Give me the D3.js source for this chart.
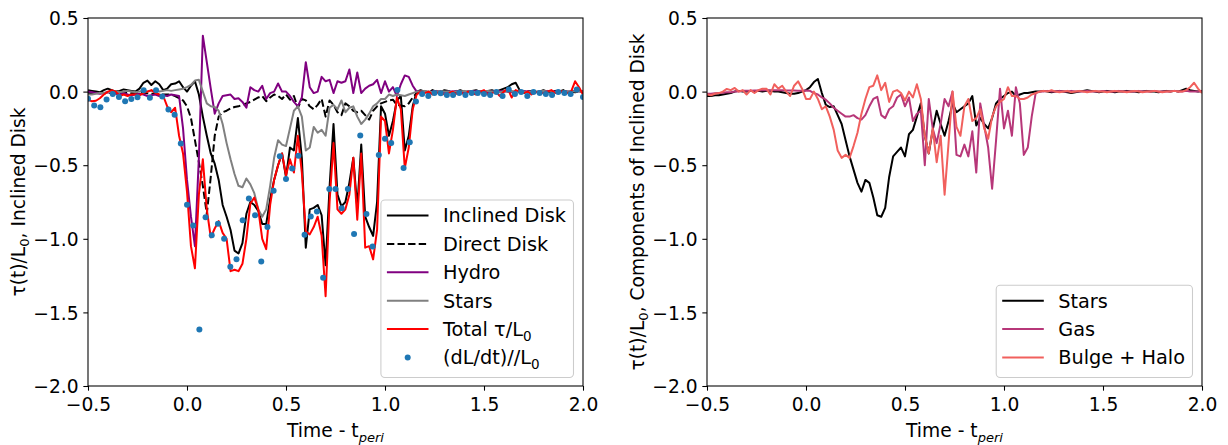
<!DOCTYPE html>
<html><head><meta charset="utf-8">
<script src="https://cdn.jsdelivr.net/npm/d3@7"></script>
<style>
body{margin:0;background:#fff;}
svg text{font-family:"DejaVu Sans",sans-serif;fill:#000;}
</style></head><body>
<svg id="fig" width="1228" height="445"></svg>
<script>
// Sample times of the torque series (every 0.02) and of the dL/dt estimate (every 1/32)
const time = d3.range(126).map(k => -0.5 + 0.02 * k);
const dotTime = d3.range(81).map(i => -0.5 + i / 32);

const xTicks = [-0.5, 0.0, 0.5, 1.0, 1.5, 2.0];
const yTicks = [-2.0, -1.5, -1.0, -0.5, 0.0, 0.5];

// Left panel: torques on the inclined disk, tau(t)/L0
const inclinedDisk = [
  0.01, 0.005, 0.0, -0.005, 0.01, 0.02, 0.01, 0.0, 0.005, 0.015,
  0.01, 0.005, 0.0, 0.02, 0.06, 0.075, 0.045, 0.07, 0.05, 0.01,
  0.02, 0.05, 0.055, 0.07, 0.03, 0.0, 0.04, 0.07, -0.02, -0.17,
  -0.3, -0.42, -0.49, -0.6, -0.77, -0.85, -0.94, -1.08, -1.1, -1.03,
  -0.83, -0.75, -0.77, -0.81, -0.9, -0.9, -0.73, -0.6, -0.5, -0.42,
  -0.58, -0.38, -0.4, -0.18, -0.45, -1.06, -0.8, -0.79, -0.77, -0.84,
  -1.18, -0.65, -0.22, -0.7, -0.78, -0.75, -0.62, -0.45, -0.79, -0.36,
  -0.85, -0.92, -0.98, -0.75, -0.1, -0.15, -0.3, -0.2, -0.06, -0.03,
  -0.4, -0.3, -0.1, 0.0, 0.01, 0.0, -0.01, 0.01, 0.0, -0.005,
  0.01, 0.005, -0.01, 0.0, 0.01, 0.0, -0.005, 0.005, 0.01, 0.0,
  -0.01, 0.005, 0.01, 0.0, 0.01, 0.02, 0.03, 0.05, 0.06, 0.01,
  -0.01, 0.0, 0.005, -0.005, 0.0, 0.01, 0.0, -0.01, 0.005, 0.0,
  0.01, -0.005, 0.0, 0.005, 0.01, -0.01
];
const directDisk = [
  -0.01, -0.01, -0.008, -0.01, -0.012, -0.01, -0.008, -0.01, -0.012, -0.01,
  -0.01, -0.012, -0.01, -0.008, -0.01, -0.012, -0.015, -0.015, -0.018, -0.02,
  -0.02, -0.02, -0.03, -0.045, -0.06, -0.1, -0.18, -0.33, -0.48, -0.64,
  -0.83, -0.58, -0.3, -0.17, -0.14, -0.13, -0.115, -0.105, -0.1, -0.09,
  -0.08, -0.07, -0.055, -0.04, -0.03, -0.065, -0.04, -0.02, -0.03, -0.05,
  -0.02, -0.055, -0.03, -0.11, -0.05, -0.06, -0.1, -0.12, -0.09, -0.05,
  -0.17, -0.06, -0.09, -0.14, -0.16, -0.08, -0.1, -0.13, -0.14, -0.13,
  -0.16, -0.19, -0.13, -0.1, -0.08, -0.07, -0.06, -0.055, -0.09, -0.095,
  -0.1, -0.08, -0.04, -0.01, 0.0, 0.0, -0.005, 0.0, 0.0, -0.005,
  0.0, 0.0, -0.005, 0.0, 0.0, -0.005, 0.0, 0.0, 0.0, -0.005,
  0.0, 0.0, 0.0, -0.005, 0.0, 0.0, 0.0, 0.0, -0.005, 0.0,
  0.0, 0.0, -0.005, 0.0, 0.0, 0.0, 0.0, -0.005, 0.0, 0.0,
  0.0, 0.0, 0.0, -0.005, 0.0, 0.0
];
const hydro = [
  0.0, -0.005, -0.01, -0.015, -0.01, -0.005, -0.01, -0.015, -0.02, -0.01,
  -0.02, -0.025, -0.02, -0.015, -0.02, -0.03, -0.025, -0.02, -0.03, -0.025,
  -0.03, -0.02, -0.025, -0.03, -0.25, -0.6, -0.85, -1.05, -0.45, 0.38,
  0.2, 0.02, -0.15, -0.08, -0.03, -0.025, -0.02, -0.05, -0.045, -0.07,
  -0.11, 0.03, 0.01, 0.0, 0.04, -0.05, -0.01, 0.0, 0.055, 0.0,
  0.0, -0.03, -0.07, -0.1, -0.04, 0.2, 0.03, -0.01, 0.0, 0.1,
  0.07, 0.08, -0.01, 0.07, 0.06, 0.07, 0.15, -0.01, 0.13, -0.01,
  0.02, 0.04, 0.05, 0.08, -0.01, 0.07, 0.0, 0.03, -0.03, 0.05,
  0.11, 0.1, 0.04, 0.0, 0.0, 0.0, -0.005, 0.0, 0.005, 0.0,
  -0.005, 0.0, 0.0, 0.005, 0.0, -0.005, 0.0, 0.0, 0.005, 0.0,
  0.0, -0.005, 0.0, 0.0, 0.005, 0.0, 0.0, -0.005, 0.0, 0.0,
  0.005, 0.0, 0.0, -0.005, 0.0, 0.0, 0.005, 0.0, 0.0, 0.0,
  -0.005, 0.0, 0.0, 0.005, 0.0, 0.0
];
const stars = [
  -0.02, -0.02, -0.015, -0.01, -0.01, -0.005, 0.0, 0.0, -0.005, 0.0,
  0.005, 0.0, -0.005, 0.0, 0.005, 0.0, 0.005, 0.01, 0.0, 0.005,
  0.01, 0.005, 0.01, 0.015, 0.02, 0.03, 0.045, 0.075, 0.08, 0.0,
  -0.08, -0.1, -0.104, -0.13, -0.22, -0.35, -0.46, -0.56, -0.64, -0.65,
  -0.59, -0.63, -0.69, -0.8, -0.85, -0.8, -0.64, -0.45, -0.33, -0.36,
  -0.37, -0.25, -0.13, -0.1, -0.17, -0.4, -0.38, -0.24, -0.28, -0.26,
  -0.3, -0.11, -0.09, -0.12, -0.06, -0.14, -0.11, -0.1, -0.17, -0.22,
  -0.19, -0.15, -0.1, -0.08, -0.05, -0.05, -0.02, -0.03, -0.02, -0.025,
  -0.03, -0.02, -0.01, 0.0, 0.0, 0.005, 0.0, -0.005, 0.0, 0.005,
  0.0, 0.0, -0.005, 0.0, 0.0, 0.005, 0.0, 0.0, -0.005, 0.0,
  0.0, 0.005, 0.0, 0.0, -0.005, 0.0, 0.0, 0.0, 0.005, 0.0,
  0.0, -0.005, 0.0, 0.0, 0.0, 0.005, 0.0, 0.0, -0.005, 0.0,
  0.0, 0.0, 0.005, 0.0, 0.0, 0.0
];
const totalTorque = [
  -0.054, -0.066, -0.062, -0.045, -0.02, 0.0, 0.01, 0.0, -0.03, -0.02,
  -0.03, -0.02, -0.02, -0.025, -0.01, 0.0, 0.01, -0.01, -0.02, -0.03,
  -0.1, -0.14, -0.11, -0.3, -0.42, -0.68, -1.05, -1.2, -0.7, -0.46,
  -0.8, -0.99, -0.93, -0.88, -0.96, -1.0, -1.22, -1.21, -1.22, -1.17,
  -1.0, -0.76, -0.72, -0.8, -1.0, -1.07, -0.77, -0.6, -0.5, -0.42,
  -0.57, -0.46, -0.55, -0.3, -0.55, -0.95, -0.97, -0.92, -0.85, -0.98,
  -1.39, -0.75, -0.35, -0.8, -0.83, -0.8, -0.7, -0.45, -0.87, -0.42,
  -1.06, -1.05, -1.14, -0.94, -0.17, -0.2, -0.42, -0.26, -0.04, -0.12,
  -0.52, -0.38, -0.12, -0.02, 0.0, -0.01, 0.0, -0.02, -0.01, 0.0,
  -0.02, -0.01, 0.0, -0.015, 0.0, -0.02, 0.0, -0.01, -0.02, 0.0,
  0.01, -0.02, -0.01, 0.0, -0.03, 0.0, 0.02, -0.04, 0.01, 0.0,
  -0.01, 0.0, -0.02, 0.0, -0.01, -0.01, 0.0, 0.01, -0.01, 0.0,
  0.0, -0.01, 0.0, 0.07, 0.03, -0.02
];
// Angular momentum change rate, (dL/dt)/L0
const dLdt = [
  -0.048, -0.095, -0.107, -0.054, -0.016, -0.036, -0.066, -0.05, -0.039, 0.009,
  -0.041, 0.009, -0.034, -0.122, -0.158, -0.353, -0.768, -0.91, -1.617, -0.854,
  -0.976, -0.897, -1.0, -1.19, -1.139, -0.874, -0.727, -0.84, -1.155, -0.919,
  -0.673, -0.44, -0.593, -0.523, -0.435, -0.973, -0.849, -0.815, -1.264, -0.661,
  -0.661, -0.793, -0.661, -0.967, -0.299, -0.831, -1.053, -0.43, -0.321, -0.349,
  0.011, -0.519, -0.344, -0.068, -0.016, -0.03, -0.009, -0.011, -0.023, -0.023,
  -0.009, -0.023, -0.009, -0.009, -0.016, -0.023, -0.002, -0.03, 0.014, -0.016,
  -0.002, -0.03, -0.002, -0.009, -0.016, -0.023, -0.002, -0.009, -0.016, 0.014,
  -0.036
];

// Right panel: components of the torque on the inclined disk
const compStars = [
  -0.03, -0.03, -0.025, -0.025, -0.02, -0.015, -0.01, 0.0, 0.005, 0.0,
  0.0, 0.005, 0.0, 0.005, 0.0, 0.005, 0.005, 0.0, 0.0, -0.005,
  -0.01, -0.015, -0.015, -0.01, 0.0, 0.01, 0.03, 0.065, 0.086, -0.01,
  -0.09, -0.105, -0.1, -0.16, -0.22, -0.33, -0.44, -0.53, -0.62, -0.68,
  -0.6, -0.62, -0.72, -0.84, -0.85, -0.79, -0.58, -0.44, -0.41, -0.38,
  -0.44, -0.29, -0.26, -0.17, -0.08, -0.3, -0.42, -0.26, -0.13, -0.22,
  -0.3, -0.2, -0.08, -0.14, -0.12, -0.1, -0.08, -0.03, -0.23, -0.18,
  -0.22, -0.25, -0.18, -0.08, -0.05, -0.03, -0.01, 0.0, -0.03, -0.02,
  -0.01, -0.01, -0.005, 0.0, 0.0, 0.005, 0.0, -0.005, 0.0, 0.005,
  0.0, -0.005, -0.01, -0.005, 0.0, 0.005, 0.01, 0.005, 0.0, -0.005,
  0.0, 0.005, 0.0, -0.005, 0.0, 0.0, 0.005, 0.0, 0.0, -0.005,
  0.0, 0.005, 0.0, 0.0, -0.005, 0.0, 0.005, 0.0, 0.005, 0.0,
  0.01, 0.02, 0.01, 0.005, 0.0, 0.005
];
const compGas = [
  -0.015, -0.015, -0.012, -0.01, -0.008, -0.005, -0.005, 0.0, 0.0, 0.005,
  0.005, 0.005, 0.008, 0.008, 0.01, 0.01, 0.01, 0.01, 0.01, 0.01,
  0.008, 0.008, 0.008, 0.006, 0.006, 0.008, 0.005, -0.01, -0.02, -0.04,
  -0.055, -0.08, -0.11, -0.13, -0.15, -0.17, -0.17, -0.16, -0.18, -0.19,
  -0.16, -0.1, -0.05, -0.035, -0.16, -0.18, -0.12, -0.1, -0.04, -0.02,
  -0.1, -0.04, -0.2, -0.15, -0.13, -0.5, -0.05, -0.25, -0.35, -0.22,
  -0.05, -0.1, 0.0, -0.43, -0.44, -0.36, -0.44, -0.27, -0.55, -0.08,
  -0.23, -0.38, -0.66, -0.33, 0.02, -0.25, -0.13, -0.3, 0.03, -0.08,
  -0.43, -0.38, -0.17, -0.01, 0.0, 0.0, 0.005, 0.0, 0.0, 0.005,
  0.0, 0.0, 0.005, 0.0, 0.0, 0.0, 0.005, 0.0, 0.0, 0.0,
  0.005, 0.0, 0.0, 0.0, 0.005, 0.0, 0.0, 0.0, 0.0, 0.005,
  0.0, 0.0, 0.0, 0.005, 0.0, 0.0, 0.0, 0.0, 0.005, 0.0,
  0.0, 0.005, 0.0, 0.0, 0.0, 0.005
];
const compBulgeHalo = [
  -0.02, -0.025, -0.015, -0.01, 0.0, 0.018, 0.01, 0.025, 0.0, 0.01,
  -0.02, 0.01, -0.01, 0.01, 0.02, 0.02, -0.02, 0.05, 0.02, 0.04,
  0.0, -0.03, 0.04, 0.07, 0.02, -0.05, -0.05, 0.0, -0.05, -0.12,
  -0.1, -0.17, -0.26, -0.4, -0.45, -0.43, -0.45, -0.37, -0.28, -0.15,
  -0.05, 0.03, 0.04, 0.11, 0.01, 0.06, -0.07, 0.0, 0.01, -0.01,
  -0.06, 0.0, -0.04, 0.05, -0.05, -0.3, -0.42, -0.25, -0.48, -0.3,
  -0.7, -0.35, 0.0, -0.24, -0.3, -0.1, -0.05, -0.2, -0.18, -0.12,
  -0.25, -0.32, -0.17, -0.1, -0.07, -0.05, 0.03, -0.03, -0.03, -0.05,
  -0.05, -0.04, -0.02, -0.01, 0.0, 0.005, 0.0, 0.01, 0.0, -0.005,
  0.0, 0.005, -0.005, 0.0, 0.005, 0.0, -0.005, 0.0, 0.005, 0.0,
  0.0, -0.005, 0.0, 0.005, 0.0, 0.0, -0.005, 0.0, 0.005, 0.0,
  -0.005, 0.0, 0.0, 0.005, 0.0, -0.005, 0.0, 0.0, 0.005, 0.0,
  0.0, 0.01, 0.03, 0.06, 0.02, -0.01
];

const FS = 18.67;      // tick and axis label size
const LFS = 19.3;      // legend text size
const svg = d3.select("#fig");
const W = 495, H = 368;

// Append text made of plain and subscript pieces
function rich(textSel, parts, size) {
  let shift = 0;
  parts.forEach(([s, kind]) => {
    const t = textSel.append("tspan").text(s);
    if (kind) {
      t.attr("font-size", size * 0.7).attr("dy", 4.5 - shift);
      shift = 4.5;
      if (kind === "subi") t.attr("font-style", "italic");
    } else if (shift) {
      t.attr("dy", -shift);
      shift = 0;
    }
  });
}

function panel(left, top, cfg) {
  const x = d3.scaleLinear().domain([-0.5, 2.0]).range([0, W]);
  const y = d3.scaleLinear().domain([-2.0, 0.5]).range([H, 0]);
  const g = svg.append("g").attr("transform", `translate(${left},${top})`);
  const clipId = "clip" + left;
  g.append("clipPath").attr("id", clipId).append("rect").attr("width", W).attr("height", H);

  const plot = g.append("g").attr("clip-path", `url(#${clipId})`);
  const line = d3.line().x((d, i) => x(time[i])).y(d => y(d));
  cfg.series.forEach(s => {
    plot.append("path").datum(s.values)
      .attr("d", line)
      .attr("fill", "none")
      .attr("stroke", s.color)
      .attr("stroke-width", 2)
      .attr("stroke-linejoin", "round")
      .attr("stroke-dasharray", s.dash || null);
  });
  if (cfg.dots) {
    plot.selectAll("circle.pt").data(cfg.dots).enter().append("circle")
      .attr("class", "pt")
      .attr("cx", (d, i) => x(dotTime[i]))
      .attr("cy", d => y(d))
      .attr("r", 3)
      .attr("fill", "#1f77b4");
  }

  const fmt = d3.format(".1f");
  const xa = g.append("g").attr("transform", `translate(0,${H})`)
    .call(d3.axisBottom(x).tickValues(xTicks).tickFormat(fmt).tickSize(4.67).tickPadding(7.2));
  const ya = g.append("g")
    .call(d3.axisLeft(y).tickValues(yTicks).tickFormat(fmt).tickSize(4.67).tickPadding(4.67));
  [xa, ya].forEach(a => {
    a.select(".domain").remove();
    a.selectAll("line").attr("stroke", "#000").attr("stroke-width", 1.07);
    a.selectAll("text").attr("font-size", FS).attr("font-family", "DejaVu Sans").attr("fill", "#000");
  });
  ya.selectAll("text").attr("dy", "0.36em");

  g.append("rect").attr("width", W).attr("height", H)
    .attr("fill", "none").attr("stroke", "#000").attr("stroke-width", 1.07);

  // axis titles
  const xl = g.append("text").attr("x", W / 2).attr("y", H + 51)
    .attr("text-anchor", "middle").attr("font-size", FS);
  rich(xl, [["Time - t", ""], ["peri", "subi"]], FS);
  const yl = g.append("text")
    .attr("transform", `translate(${cfg.ylabelX},${H / 2}) rotate(-90)`)
    .attr("text-anchor", "middle").attr("dy", "0.3em").attr("font-size", FS);
  rich(yl, cfg.ylabel, FS);

  // legend, lower right
  const n = cfg.legend.length;
  const rowH = 28.4;
  const boxH = 15.5 + (n - 1) * rowH + 20;
  const lg = g.append("g");
  const box = lg.append("rect").attr("rx", 4).attr("ry", 4)
    .attr("fill", "#fff").attr("fill-opacity", 0.8)
    .attr("stroke", "#cccccc").attr("stroke-width", 1.07);
  const items = lg.append("g");
  let maxW = 0;
  cfg.legend.forEach((it, i) => {
    const cy = 15.5 + i * rowH;
    if (it.dot) {
      items.append("circle").attr("cx", 6 + 20.8).attr("cy", cy).attr("r", 3).attr("fill", it.color);
    } else {
      items.append("line").attr("x1", 6).attr("x2", 47.6).attr("y1", cy).attr("y2", cy)
        .attr("stroke", it.color).attr("stroke-width", 2)
        .attr("stroke-dasharray", it.dash || null);
    }
    const t = items.append("text").attr("x", 62).attr("y", cy).attr("dy", "0.36em").attr("font-size", LFS);
    rich(t, it.label, LFS);
    maxW = Math.max(maxW, t.node().getComputedTextLength());
  });
  const boxW = 62 + maxW + 7.5;
  box.attr("width", boxW).attr("height", boxH);
  lg.attr("transform", `translate(${W - 9.5 - boxW},${H - 8.5 - boxH})`);
}

panel(88, 18, {
  series: [
    { values: inclinedDisk, color: "#000000" },
    { values: directDisk, color: "#000000", dash: "7.4,3.2" },
    { values: hydro, color: "#800080" },
    { values: stars, color: "#808080" },
    { values: totalTorque, color: "#ff0000" }
  ],
  dots: dLdt,
  ylabelX: -69,
  ylabel: [["τ(t)/L", ""], ["0", "sub"], [", Inclined Disk", ""]],
  legend: [
    { label: [["Inclined Disk", ""]], color: "#000000" },
    { label: [["Direct Disk", ""]], color: "#000000", dash: "7.4,3.2" },
    { label: [["Hydro", ""]], color: "#800080" },
    { label: [["Stars", ""]], color: "#808080" },
    { label: [["Total τ/L", ""], ["0", "sub"]], color: "#ff0000" },
    { label: [["(dL/dt)//L", ""], ["0", "sub"]], color: "#1f77b4", dot: true }
  ]
});

panel(707, 18, {
  series: [
    { values: compStars, color: "#000000" },
    { values: compGas, color: "#b73779" },
    { values: compBulgeHalo, color: "#f1605d" }
  ],
  ylabelX: -69,
  ylabel: [["τ(t)/L", ""], ["0", "sub"], [", Components of Inclined Disk", ""]],
  legend: [
    { label: [["Stars", ""]], color: "#000000" },
    { label: [["Gas", ""]], color: "#b73779" },
    { label: [["Bulge + Halo", ""]], color: "#f1605d" }
  ]
});
</script>
</body></html>
